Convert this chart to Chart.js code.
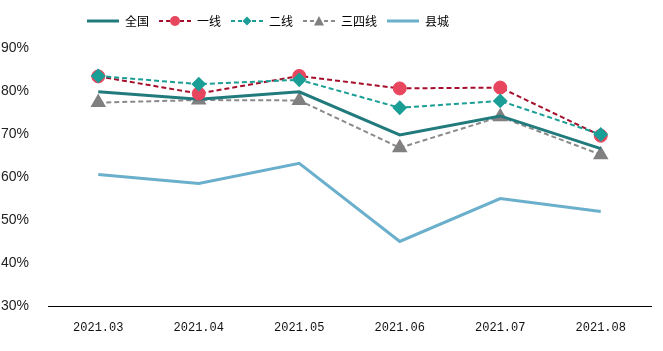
<!DOCTYPE html>
<html><head><meta charset="utf-8">
<script src="https://cdn.jsdelivr.net/npm/chart.js@4/dist/chart.umd.min.js"></script>
<style>html,body{margin:0;padding:0;background:#fff}#wrap{width:663px;height:351px}</style>
</head><body><div id="wrap"><canvas id="c" width="663" height="351"></canvas></div>
<script>
const categories = ['2021.03','2021.04','2021.05','2021.06','2021.07','2021.08'];
const national = [79.8, 78.1, 79.8, 69.8, 74.2, 66.6];
const tier1 = [83.4, 79.4, 83.5, 80.6, 80.8, 69.6];
const tier2 = [83.5, 81.6, 82.6, 76.1, 77.7, 69.9];
const tier34 = [77.3, 77.9, 77.8, 66.8, 74.0, 65.2];
const county = [60.6, 58.5, 63.2, 45.0, 55.0, 52.0];
const yTicks = [30, 40, 50, 60, 70, 80, 90];
const seriesNames = ['全国','一线','二线','三四线','县城'];

function legendImg(color, dash, marker, mcolor, lw){
  const c = document.createElement('canvas'); c.width = 32; c.height = 14;
  const g = c.getContext('2d');
  g.strokeStyle = color; g.lineWidth = lw; g.setLineDash(dash);
  g.beginPath(); g.moveTo(0,7); g.lineTo(32,7); g.stroke();
  g.setLineDash([]); g.fillStyle = mcolor;
  if (marker === 'circle'){ g.beginPath(); g.arc(16,7,5,0,Math.PI*2); g.fill(); }
  if (marker === 'rectRot'){ g.beginPath(); g.moveTo(16,2.5); g.lineTo(20.5,7); g.lineTo(16,11.5); g.lineTo(11.5,7); g.closePath(); g.fill(); }
  if (marker === 'triangle'){ g.beginPath(); g.moveTo(16,2); g.lineTo(21,11.5); g.lineTo(11,11.5); g.closePath(); g.fill(); }
  return c;
}
const imgs = [
  legendImg('#217A7B', [], null, null, 3),
  legendImg('#A50F2B', [4,3], 'circle', '#E8465E', 2),
  legendImg('#1A9E96', [4,3], 'rectRot', '#1A9E96', 2),
  legendImg('#8A8A8A', [4,3], 'triangle', '#808080', 2),
  legendImg('#6AAFCB', [], null, null, 3)
];

const legendTweak = {
  id: 'legendTweak',
  afterInit(chart) {
    const lg = chart.legend;
    if (lg) {
      const f = lg.fit;
      lg.fit = function(){ f.call(this); this.height += 11; };
    }
  },
  afterLayout(chart) {
    const lg = chart.legend;
    if (lg) { const w = lg.right - lg.left; lg.left = 77; lg.right = 77 + w; }
  }
};

new Chart(document.getElementById('c'), {
  type: 'line',
  data: {
    labels: categories,
    datasets: [
      {label: seriesNames[0], data: national, borderColor:'#217A7B', borderWidth:3, pointRadius:0, order:3},
      {label: seriesNames[1], data: tier1, borderColor:'#A50F2B', borderWidth:2, borderDash:[5,3], pointStyle:'circle', pointRadius:6.5, pointBorderWidth:1, pointBackgroundColor:'#E8465E', pointBorderColor:'#E8465E', order:2},
      {label: seriesNames[2], data: tier2, borderColor:'#1A9E96', borderWidth:2, borderDash:[5,3], pointStyle:'rectRot', pointRadius:6, pointBackgroundColor:'#1A9E96', pointBorderColor:'#1A9E96', order:1},
      {label: seriesNames[3], data: tier34, borderColor:'#8A8A8A', borderWidth:2, borderDash:[5,3], pointStyle:'triangle', pointRadius:7, pointBackgroundColor:'#808080', pointBorderColor:'#808080', order:4},
      {label: seriesNames[4], data: county, borderColor:'#6AAFCB', borderWidth:3, pointRadius:0, order:5}
    ]
  },
  options: {
    responsive: false, animation: false,
    layout: {padding: {top: 5, right: 12, bottom: 0, left: 0}},
    plugins: {
      tooltip: {enabled: false},
      legend: {
        position: 'top', align: 'start',
        labels: {
          usePointStyle: true, pointStyleWidth: 32, padding: 10,
          color: '#111', font: {family: '"Noto Sans CJK SC"', size: 12},
          generateLabels: (chart) => chart.data.datasets.map((d,i) => ({
            text: d.label, pointStyle: imgs[i], fillStyle: 'transparent', strokeStyle: 'transparent',
            lineWidth: 0, datasetIndex: i, hidden: false
          }))
        }
      }
    },
    scales: {
      x: {
        offset: true,
        afterFit: (s) => { s.height = 45; },
        grid: {display: false},
        border: {display: true, color: '#000', width: 1},
        ticks: {color: '#111', font: {family: '"Liberation Mono"', size: 12}, padding: 7}
      },
      y: {
        min: 30, max: 90,
        afterBuildTicks: (s) => { s.ticks = yTicks.map(v => ({value: v})); },
        afterFit: (s) => { s.width = 48; },
        grid: {display: false},
        border: {display: false},
        ticks: {color: '#222', font: {family: '"Liberation Sans"', size: 14}, padding: 11, callback: v => v + '%'}
      }
    }
  },
  plugins: [legendTweak]
});
</script></body></html>
